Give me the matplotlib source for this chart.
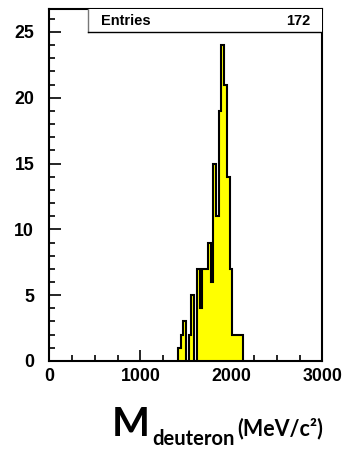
import numpy as np
import matplotlib
matplotlib.use("Agg")
from matplotlib import pyplot as plt
from matplotlib.ticker import MultipleLocator
from matplotlib.patches import Rectangle

# histogram contents (30 MeV bins)
bin_width = 30
first_edge = 1410
counts = [1, 2, 3, 0, 2, 5, 0, 7, 4, 7, 7, 9, 6, 15, 11, 19, 24, 21, 14,
          7, 2, 2, 2, 2]
entries = 172
y_ticks = [0, 5, 10, 15, 20, 25]
x_ticks = [0, 1000, 2000, 3000]

edges = first_edge + bin_width * np.arange(len(counts) + 1)

fig = plt.figure(figsize=(3.48, 4.49), dpi=100)
ax = fig.add_axes([0.1422, 0.196, 0.7845, 0.7829])

ax.stairs(counts, edges, fill=True, color="#ffff00", zorder=2)
ax.stairs(counts, edges, color="black", linewidth=1.5, zorder=3, baseline=0)

ax.set_xlim(0, 3000)
ax.set_ylim(0, 26.7)
ax.set_xticks(x_ticks)
ax.set_yticks(y_ticks)
ax.xaxis.set_minor_locator(MultipleLocator(250))
ax.yaxis.set_minor_locator(MultipleLocator(1))
ax.tick_params(which="both", direction="in", width=1.2, top=False, right=False)
ax.tick_params(axis="y", which="major", length=8.5, pad=11)
ax.tick_params(axis="y", which="minor", length=4.3)
ax.tick_params(axis="x", which="major", length=8, pad=5)
ax.tick_params(axis="x", which="minor", length=4)
for lab in ax.get_xticklabels() + ax.get_yticklabels():
    lab.set_fontfamily("Liberation Sans")
    lab.set_fontweight("bold")
    lab.set_fontsize(12.8)
for s in ax.spines.values():
    s.set_linewidth(1.5)

# stat box
box = Rectangle((0.141, 0.935), 0.86, 0.07, transform=ax.transAxes,
                facecolor="white", edgecolor="none", zorder=4)
ax.add_patch(box)
ax.plot([0.141, 0.141], [0.935, 1.0], transform=ax.transAxes, color="#777777",
        linewidth=1.0, zorder=5)
ax.plot([0.141, 1.0], [0.935, 0.935], transform=ax.transAxes, color="black",
        linewidth=1.0, zorder=5)
ax.text(0.19, 0.967, "Entries", transform=ax.transAxes, ha="left", va="center",
        family="Liberation Sans", weight="bold", fontsize=10.5, zorder=6)
ax.text(0.955, 0.967, str(entries), transform=ax.transAxes, ha="right",
        va="center", family="Liberation Sans", weight="bold", fontsize=10.5,
        zorder=6)

# axis title
fig.text(0.322, 0.030, "M", family="Lato", weight="bold", fontsize=29,
         ha="left", va="baseline")
fig.text(0.437, 0.008, "deuteron", family="Lato", weight="bold", fontsize=14.5,
         ha="left", va="baseline")
fig.text(0.681, 0.030, "(MeV/c²)", family="Lato", weight="bold", fontsize=15.5,
         ha="left", va="baseline")

fig.savefig("out.png", dpi=100)
